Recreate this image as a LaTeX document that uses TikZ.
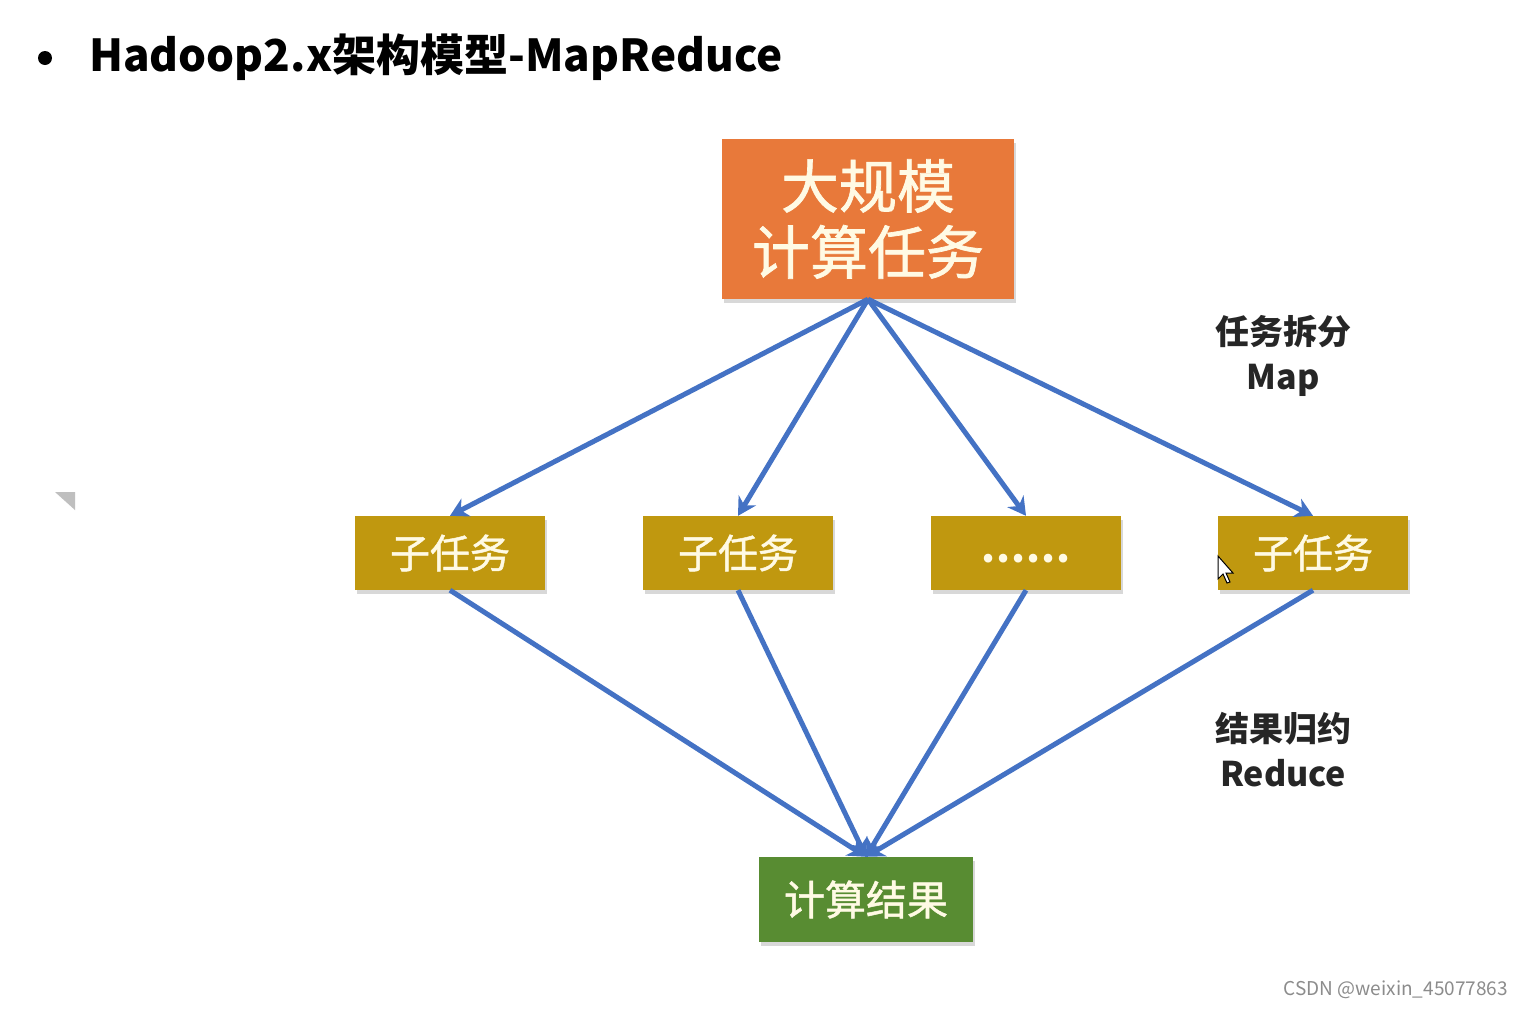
\documentclass[tikz,border=0pt]{standalone}
\usepackage{fontspec}
\setmainfont{Noto Sans CJK SC}
\newfontfamily\cjk{Noto Sans CJK SC}
\newfontfamily\cjkmed[FakeBold=1.2]{Noto Sans CJK SC}
\usetikzlibrary{arrows.meta,shadows}
\definecolor{boxorange}{RGB}{232,121,58}
\definecolor{boxgold}{RGB}{192,152,15}
\definecolor{boxgreen}{RGB}{88,140,50}
\definecolor{arrblue}{RGB}{68,114,196}
\definecolor{boxtext}{RGB}{255,250,228}
\tikzset{
  box/.style={inner sep=0pt, text=boxtext, align=center,
    drop shadow={shadow xshift=2pt, shadow yshift=-4pt, opacity=0.3}},
  topbox/.style={box, fill=boxorange, minimum width=292pt, minimum height=160pt,
    font=\cjkmed\fontsize{58}{66}\selectfont},
  subbox/.style={box, fill=boxgold, minimum width=190pt, minimum height=74pt,
    font=\cjkmed\fontsize{40}{44}\selectfont},
  resbox/.style={box, fill=boxgreen, minimum width=214pt, minimum height=85pt,
    font=\cjkmed\fontsize{41}{46}\selectfont},
  arr/.style={draw=arrblue, line width=5pt, -{Stealth[length=18pt,width=20pt]}},
  sidelabel/.style={align=center, font=\cjk\bfseries\fontsize{34}{45}\selectfont, text=black!85},
}
\begin{document}
\begin{tikzpicture}[x=1pt,y=-1pt]
\useasboundingbox (0,0) rectangle (1523,1010);
\fill[white] (0,0) rectangle (1523,1010);
% title
\fill[black] (45,58) circle (7);
\node[anchor=west, inner sep=0pt, font=\cjk\bfseries\fontsize{44}{49}\selectfont] (title) at (89,57) {Hadoop2.x架构模型-MapReduce};
% small triangle
\fill[black!25] (55,492) -- (75,492) -- (75,510) -- cycle;
% boxes
\node[topbox] (big) at (868,219) {大规模\\计算任务};
\node[subbox] (s1) at (450,553) {子任务};
\node[subbox] (s2) at (738,553) {子任务};
\node[subbox, font=\cjk\bfseries\fontsize{40}{44}\selectfont, text height=12pt, text depth=12pt] (s3) at (1026,553) {\raisebox{-9pt}{.\hspace{1pt}.\hspace{1pt}.\hspace{1pt}.\hspace{1pt}.\hspace{1pt}.}};
\node[subbox] (s4) at (1313,553) {子任务};
\node[resbox] (res) at (866,899.5) {计算结果};
% arrows
\foreach \s in {s1,s2,s3,s4} {
  \draw[arr] (big.south) -- (\s.north);
  \draw[arr] (\s.south) -- (res.north);
}
% labels
\node[sidelabel] (maplbl) at (1283,356) {任务拆分\\Map};
\node[sidelabel] (redlbl) at (1283,750) {结果归约\\Reduce};
% cursor
\filldraw[fill=white, draw=black, line width=1pt] (1218,556) -- (1218,579) -- (1223,574) -- (1227,583) -- (1230,582) -- (1226,573) -- (1233,573) -- cycle;
% watermark
\node[anchor=east, inner sep=0pt, text=black!45, font=\cjk\fontsize{19}{23}\selectfont] (wm) at (1508,990) {CSDN @weixin\_45077863};
\end{tikzpicture}
\end{document}
